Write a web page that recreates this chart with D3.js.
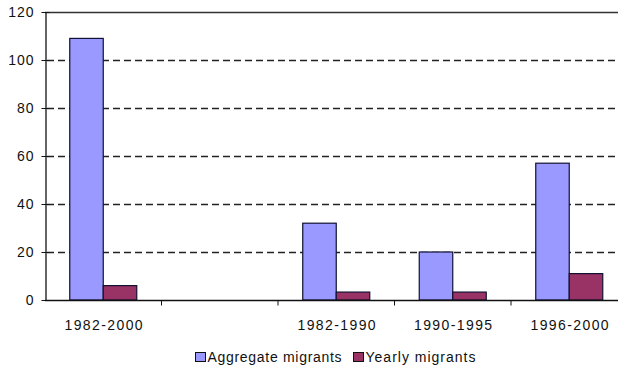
<!DOCTYPE html>
<html><head><meta charset="utf-8">
<script src="https://cdn.jsdelivr.net/npm/d3@7"></script>
<style>
html,body{margin:0;padding:0;background:#fff;}
svg{display:block;font-family:"Liberation Sans",Arial,sans-serif;}
</style></head>
<body>
<svg id="c" width="618" height="368"></svg>
<script>
const categories = ["1982-2000", "", "1982-1990", "1990-1995", "1996-2000"];
const aggregateMigrants = [109, null, 32, 20, 57];
const yearlyMigrants = [6, null, 3.3, 3.3, 11];
const seriesNames = ["Aggregate migrants", "Yearly migrants"];
const seriesColors = ["#9999FF", "#993366"];
const yTicks = [0, 20, 40, 60, 80, 100, 120];

(function () {
const svg = d3.select("#c");
const pLeft = 45, pTop = 12, pBottom = 300, catW = 116.5;
const pRight = pLeft + catW * categories.length;

const x = d3.scaleBand().domain(d3.range(categories.length)).range([pLeft, pRight]).paddingInner(0).paddingOuter(0);
const x1 = d3.scaleBand().domain([0, 1]).range([0, 67]);
const y = d3.scaleLinear().domain([0, 120]).range([pBottom, pTop]);

// gridlines
svg.append("g").selectAll("line").data(yTicks.filter(d => d > 0 && d < 120)).join("line")
  .attr("x1", pLeft + 2).attr("x2", 618).attr("y1", d => y(d) + 0.5).attr("y2", d => y(d) + 0.5)
  .attr("stroke", "#222").attr("stroke-width", 1.5).attr("stroke-dasharray", "7,4");
// top border
svg.append("line").attr("x1", pLeft).attr("x2", 618).attr("y1", y(120) + 0.5).attr("y2", y(120) + 0.5)
  .attr("stroke", "#333").attr("stroke-width", 1.5);

// bars
const series = [aggregateMigrants, yearlyMigrants];
series.forEach((vals, si) => {
  svg.append("g").selectAll("rect").data(vals.map((v, i) => ({v, i})).filter(d => d.v != null)).join("rect")
    .attr("x", d => x(d.i) + (catW - 67) / 2 + x1(si))
    .attr("width", x1.bandwidth())
    .attr("y", d => y(d.v))
    .attr("height", d => y(0) - y(d.v))
    .attr("fill", seriesColors[si]).attr("stroke", "#111133").attr("stroke-width", 1.2);
});

// y axis
const yAxis = d3.axisLeft(y).tickValues(yTicks).tickSize(4).tickSizeOuter(0);
const ga = svg.append("g").attr("transform", `translate(${pLeft + 0.5},0)`).call(yAxis);
ga.select(".domain").attr("stroke", "#111").attr("stroke-width", 1.3);
ga.selectAll(".tick line").attr("stroke", "#111").attr("x2", 4).attr("x1", -4);
ga.selectAll("text").attr("font-size", 14).attr("fill", "#111").attr("x", -11)
  .attr("letter-spacing", 1).attr("font-family", "Liberation Sans, Arial, sans-serif");

// x axis
const gx = svg.append("g").attr("transform", `translate(0,${pBottom + 0.5})`);
gx.append("line").attr("x1", pLeft).attr("x2", 618).attr("stroke", "#111").attr("stroke-width", 1.3);
gx.selectAll("line.t").data(d3.range(1, categories.length + 1)).join("line").attr("class", "t")
  .attr("x1", i => x(0) + i * catW).attr("x2", i => x(0) + i * catW)
  .attr("y1", 0).attr("y2", 5).attr("stroke", "#111");
gx.selectAll("text").data(categories.map((c, i) => ({c, i}))).join("text")
  .attr("x", d => x(d.i) + catW / 2 + 1).attr("y", 29.5)
  .attr("text-anchor", "middle").attr("font-size", 14).attr("letter-spacing", 1.4)
  .attr("fill", "#111").text(d => d.c);

// legend
const lg = svg.append("g");
const legItems = [{x: 195.5, name: seriesNames[0], c: seriesColors[0], ls: 0.7}, {x: 353.5, name: seriesNames[1], c: seriesColors[1], ls: 1}];
legItems.forEach(it => {
  lg.append("rect").attr("x", it.x).attr("y", 352.5).attr("width", 10).attr("height", 9)
    .attr("fill", it.c).attr("stroke", "#111").attr("stroke-width", 1);
  lg.append("text").attr("x", it.x + 12).attr("y", 362).attr("font-size", 14).attr("fill", "#111")
    .attr("letter-spacing", it.ls).text(it.name);
});
})();
</script>
</body></html>
